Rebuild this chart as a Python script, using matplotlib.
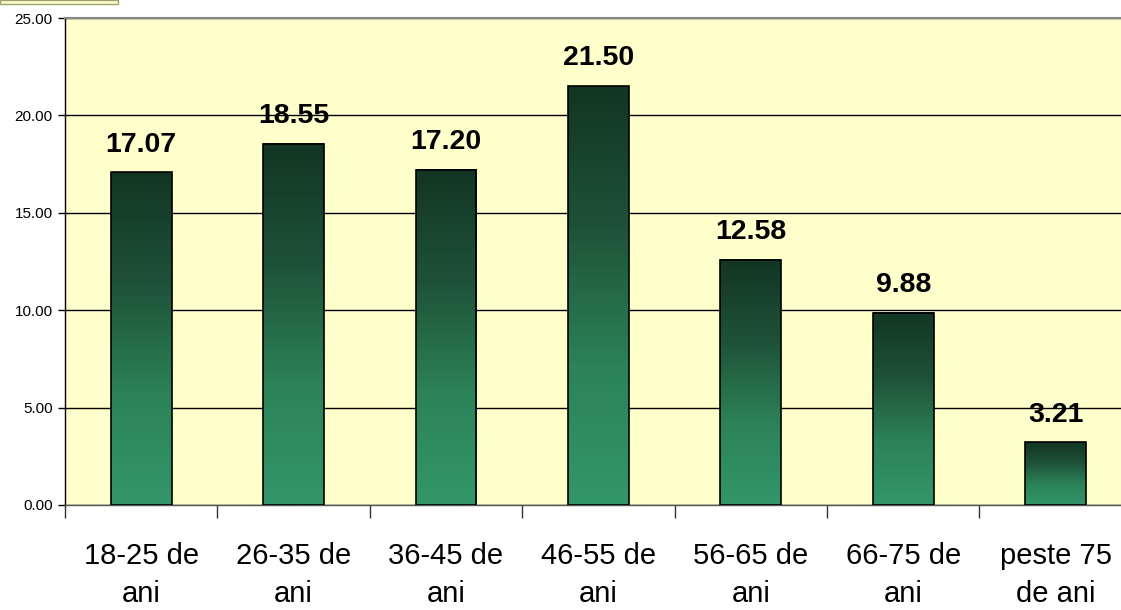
import numpy as np
import matplotlib
matplotlib.use('Agg')
import matplotlib.pyplot as plt
from matplotlib.colors import LinearSegmentedColormap
from matplotlib.patches import Rectangle

# Data
categories = ['18-25 de\nani', '26-35 de\nani', '36-45 de\nani', '46-55 de\nani',
              '56-65 de\nani', '66-75 de\nani', 'peste 75\nde ani']
values = [17.07, 18.55, 17.20, 21.50, 12.58, 9.88, 3.21]
y_ticks = [0, 5, 10, 15, 20, 25]

W, H = 1121, 610
fig = plt.figure(figsize=(W / 100, H / 100), dpi=100)
fig.patch.set_facecolor('white')

# Plot area (extends a bit past the right edge like in the original)
left, top, bottom = 65, 18, 505
right = 65 + 7 * 152.4
ax = fig.add_axes([left / W, (H - bottom) / H, (right - left) / W, (bottom - top) / H])
ax.set_facecolor('#FFFFCC')

x = np.arange(len(values))
bar_w = 0.4
ax.set_xlim(-0.5, len(values) - 0.5)
ax.set_ylim(0, 25)

# Gradient from dark green at the top to medium green at the bottom
cmap = LinearSegmentedColormap.from_list('g', ['#33966A', '#2C8259', '#1E5238', '#133524'])
grad = np.linspace(0, 1, 256).reshape(-1, 1)
for xi, v in zip(x, values):
    ax.imshow(grad, extent=(xi - bar_w / 2, xi + bar_w / 2, 0, v), origin='lower',
              cmap=cmap, aspect='auto', zorder=3)
ax.bar(x, values, width=bar_w, facecolor='none', edgecolor='black', linewidth=1.2, zorder=4)

# Value labels
for xi, v in zip(x, values):
    ax.annotate('%.2f' % v, (xi, v), xytext=(0, 15), textcoords='offset points',
                ha='center', va='baseline', fontsize=20.5, fontweight='bold',
                family='Liberation Sans', color='black', zorder=5)

# Grid lines
ax.set_yticks(y_ticks)
ax.set_yticklabels(['%.2f' % t for t in y_ticks], fontsize=11, family='Liberation Sans')
ax.yaxis.grid(True, color='black', linewidth=1)
ax.set_axisbelow(True)
ax.tick_params(axis='y', direction='out', length=5, width=1, pad=4)

# Category labels and separator ticks
ax.set_xticks(x)
ax.set_xticklabels(categories, fontsize=21, family='Liberation Sans', linespacing=1.45)
ax.tick_params(axis='x', which='major', length=0, pad=27)
ax.set_xticks(np.arange(-0.5, len(values), 1.0), minor=True)
ax.tick_params(axis='x', which='minor', direction='out', length=9, width=1, color='#333333')

for s in ['left', 'bottom']:
    ax.spines[s].set_color('black')
    ax.spines[s].set_linewidth(1)
ax.spines['bottom'].set_color('#555555')
ax.spines['top'].set_color('#888888')
ax.spines['top'].set_linewidth(1.5)
ax.spines['right'].set_visible(False)

# Small cut-off box at the top-left corner
fig.patches.append(Rectangle((0, 1 - 4 / H), 118 / W, 4 / H, transform=fig.transFigure,
                             facecolor='#FFFFCC', edgecolor='#A0A070', linewidth=1))

fig.savefig('out.png', dpi=100)
